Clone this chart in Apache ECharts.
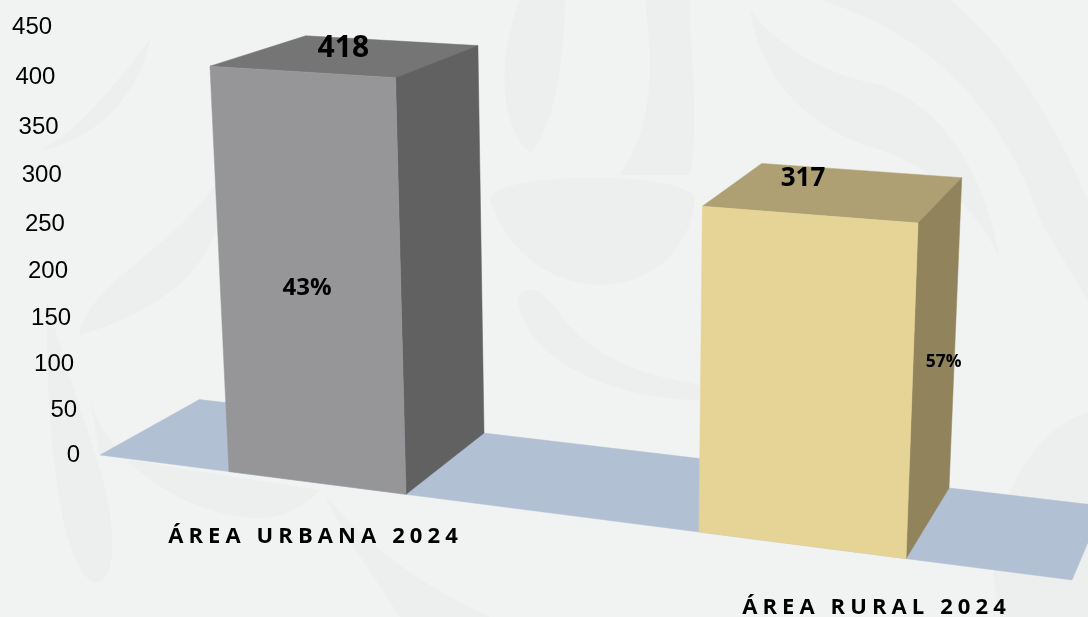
<html>

<head>
    <meta charset="UTF-8">
    <title>Área urbana y rural 2024</title>
    <script src="https://cdn.jsdelivr.net/npm/echarts@6/dist/echarts.min.js"></script>
    <style>
        html, body { margin: 0; padding: 0; background: #f1f3f3; }
    </style>
</head>

<body>
    <div id="container" style="width: 1088px;height:617px;"></div>
</body>

<script>
    var categories = ['ÁREA URBANA 2024', 'ÁREA RURAL 2024'];
    var totals = [418, 317];
    var shares = ['43%', '57%'];
    var tickLabels = [0, 50, 100, 150, 200, 250, 300, 350, 400, 450];

    // colores de cada barra: frente, tapa, lado
    var faceColors = [
        ['#969698', '#757576', '#616161'],
        ['#e6d496', '#afa073', '#91845c']
    ];
    // desplazamientos de los textos sobre cada barra
    var totalOffset = [[-4, -8], [-33, -14]];
    var shareOffset = [[-3, 11], [10, 0]];
    var nameOffset = [[-2, 54], [74, 62]];
    var totalSize = [30, 26];
    var shareSize = [24, 17.5];

    // espaciado de letras solo para los nombres de categoria (zrender no lo soporta)
    var proto = CanvasRenderingContext2D.prototype;
    var origFillText = proto.fillText;
    proto.fillText = function (s, x, y) {
        this.letterSpacing = categories.indexOf(s) >= 0 ? '5.1px' : '0px';
        origFillText.call(this, s, x, y);
    };

    // perspectiva: fx = x sobre el borde frontal del piso, v = valor, d = profundidad 0..1
    function project(api, fx, v, d) {
        var y0 = api.coord([0, 0])[1];
        var xb = fx + d * (106.4 - 0.07 * fx);
        var yFront = y0 + 1 + 0.1286 * (fx - 100);
        var yBack = y0 - 55 + 0.118 * (xb - 195);
        var yb = yFront + d * (yBack - yFront);
        var h = api.size([0, v])[1] * (0.9874 + 0.000161 * xb) * (0.94 + 0.000133 * v) * (1 - 0.081 * d);
        return [xb + h * (xb - 613) * 0.000122, yb - h];
    }

    function poly(points, color) {
        return {
            type: 'polygon',
            shape: { points: points },
            style: { fill: color, stroke: color, lineWidth: 0.5 }
        };
    }

    function label(text, x, y, size, align) {
        return {
            type: 'text',
            style: {
                text: text, x: x, y: y,
                fill: '#000',
                fontFamily: 'Open Sans',
                fontWeight: 'bold',
                fontSize: size,
                align: align || 'center',
                verticalAlign: 'middle'
            }
        };
    }

    function renderFloor(params, api) {
        var left = params.coordSys.x + 25;
        var right = params.coordSys.x + 997;
        return poly([
            project(api, left, 0, 0),
            project(api, right, 0, 0),
            project(api, right, 0, 1),
            project(api, left, 0, 1)
        ], '#b2c0d4');
    }

    function renderBar(params, api) {
        var i = params.dataIndex;
        var v = api.value(1);
        var cx = api.coord([i, 0])[0];
        var half = api.size([1, 0])[0] * (0.1623 + 0.0000638 * cx);
        var l = cx - half, r = cx + half;

        var fl0 = project(api, l, 0, 0), fr0 = project(api, r, 0, 0), br0 = project(api, r, 0, 1);
        var fl = project(api, l, v, 0), fr = project(api, r, v, 0);
        var br = project(api, r, v, 1), bl = project(api, l, v, 1);
        var c = faceColors[i];

        var topX = (fl[0] + fr[0] + br[0] + bl[0]) / 4, topY = (fl[1] + fr[1] + br[1] + bl[1]) / 4;
        var frontX = (fl[0] + fr[0] + fr0[0] + fl0[0]) / 4, frontY = (fl[1] + fr[1] + fr0[1] + fl0[1]) / 4;
        var sideX = (fr[0] + br[0] + br0[0] + fr0[0]) / 4, sideY = (fr[1] + br[1] + br0[1] + fr0[1]) / 4;
        var shareAt = i === 0 ? [frontX, frontY] : [sideX, sideY];

        return {
            type: 'group',
            children: [
                poly([fl, fr, br, bl], c[1]),
                poly([fr, br, br0, fr0], c[2]),
                poly([fl, fr, fr0, fl0], c[0]),
                label(String(totals[i]), topX + totalOffset[i][0], topY + totalOffset[i][1], totalSize[i]),
                label(shares[i], shareAt[0] + shareOffset[i][0], shareAt[1] + shareOffset[i][1], shareSize[i]),
                label(categories[i], cx + nameOffset[i][0], (fl0[1] + fr0[1]) / 2 + nameOffset[i][1], 22)
            ]
        };
    }

    function renderTick(params, api) {
        var p = project(api, params.coordSys.x + 5, api.value(1), 0);
        return {
            type: 'text',
            style: {
                text: String(api.value(1)), x: p[0], y: p[1] + 3,
                fill: '#000',
                fontFamily: 'Liberation Sans',
                fontSize: 24,
                align: 'right',
                verticalAlign: 'middle'
            }
        };
    }

    // marca de agua del fondo
    var wash = [
        'M520 0 C500 50 495 120 530 153 C555 130 565 50 565 0 Z',
        'M750 10 C780 50 830 75 880 85 C940 105 985 170 1000 260 C980 210 930 165 880 150 C810 130 760 80 750 10 Z',
        'M820 0 C920 30 1000 100 1040 220 L1088 300 L1088 200 C1050 110 1000 40 950 0 Z',
        'M490 200 C510 260 560 285 600 285 C650 285 690 250 695 200 C695 170 490 170 490 200 Z',
        'M645 0 C655 80 650 130 620 175 L690 175 C700 120 690 60 690 0 Z',
        'M517 300 C525 280 545 290 560 315 C600 365 650 375 700 385 L700 400 C630 400 530 370 517 300 Z',
        'M47 300 C45 430 60 570 95 583 C120 580 115 520 100 470 C85 420 60 350 47 300 Z',
        'M87 385 C95 450 170 510 250 518 C280 520 300 510 320 490 L190 470 L100 455 Z',
        'M325 495 C370 550 430 590 490 617 L400 617 C370 570 340 530 325 495 Z',
        'M1000 617 C975 520 1030 430 1088 412 L1088 617 Z',
        'M80 330 C95 280 170 250 215 185 L220 220 C200 290 130 320 80 335 Z',
        'M40 150 C80 130 110 90 150 40 C140 90 100 140 40 150 Z'
    ];

    function renderWash(params) {
        return {
            type: 'path',
            shape: { pathData: wash[params.dataIndex] },
            style: { fill: '#edefef' }
        };
    }

    var mycharts = echarts.init(document.getElementById('container'));
    var option = {
        animation: false,
        backgroundColor: '#f1f3f3',
        grid: { left: 75, top: 26, width: 970, height: 428 },
        xAxis: { type: 'category', data: categories, show: false },
        yAxis: { type: 'value', min: 0, max: 450, interval: 50, show: false },
        series: [
            { name: 'fondo', type: 'custom', clip: false, z: 1, silent: true, data: wash.map(function () { return [0, 0]; }), renderItem: renderWash },
            { name: 'piso', type: 'custom', clip: false, z: 2, silent: true, data: [[0, 0]], renderItem: renderFloor },
            { name: 'escala', type: 'custom', clip: false, z: 3, silent: true, data: tickLabels.map(function (t) { return [0, t]; }), renderItem: renderTick },
            { name: 'total', type: 'custom', clip: false, z: 4, silent: true, data: totals.map(function (t, i) { return [i, t]; }), renderItem: renderBar }
        ]
    };
    mycharts.setOption(option);
</script>

</html>
